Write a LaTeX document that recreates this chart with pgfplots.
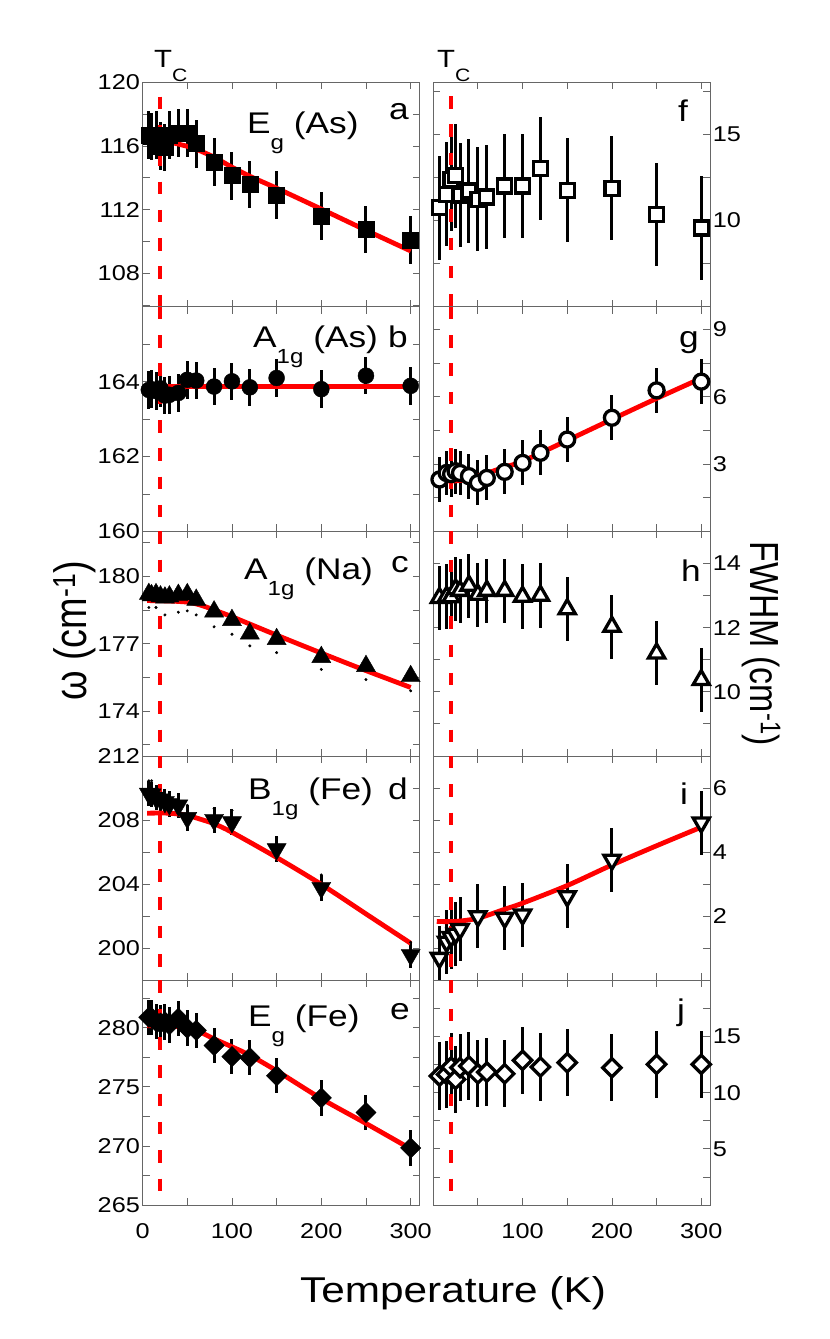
\documentclass[border=0pt]{standalone}
\usepackage{pgfplots}
\pgfplotsset{compat=1.18}
\usepackage{pgfplotstable}
\usepackage{fontspec}
\setmainfont{Liberation Sans}[FakeStretch=1.18]
\newfontfamily\plainfont{Liberation Sans}

\pgfplotstableread{
T w e
7 116.67 1.5
10 116.60 1.5
15 116.70 1.5
20 116.00 1.5
25 115.90 1.5
30 116.70 1.5
40 116.80 1.5
50 116.80 1.5
60 116.15 1.5
80 114.98 1.5
100 114.14 1.5
120 113.58 1.5
150 112.94 1.5
200 111.62 1.5
250 110.75 1.5
300 110.08 1.5
}\dataA
\pgfplotstableread{
T w e
7 163.78 0.5
10 163.80 0.5
15 163.75 0.5
20 163.82 0.5
25 163.63 0.5
30 163.65 0.5
40 163.70 0.5
50 164.05 0.5
60 164.03 0.5
80 163.87 0.5
100 164.01 0.5
120 163.85 0.5
150 164.10 0.5
200 163.80 0.5
250 164.16 0.5
300 163.89 0.5
}\dataB
\pgfplotstableread{
T w
7 179.21
10 179.15
15 179.20
20 179.10
25 179.05
30 179.10
40 179.17
50 179.20
60 178.95
80 178.43
100 178.05
120 177.45
150 177.20
200 176.40
250 176.00
300 175.55
}\dataC
\pgfplotstableread{
T w
7 178.61
15 178.61
25 178.28
40 178.40
50 178.46
60 178.28
80 177.75
100 177.42
120 176.90
150 176.60
200 175.85
250 175.40
300 174.90
}\dotsC
\pgfplotstableread{
T w e
7 209.65 0.8
10 209.60 0.8
15 209.40 0.8
20 209.30 0.8
25 209.13 0.8
30 209.00 0.8
40 208.92 0.8
50 208.14 0.8
80 208.02 0.8
100 207.87 0.8
150 206.19 0.8
200 203.78 0.8
300 199.59 0.8
}\dataD
\pgfplotstableread{
T w
7 210.45
10 210.45
50 208.92
80 208.71
100 208.60
150 206.89
200 204.58
300 200.38
}\dotsD
\pgfplotstableread{
T w e
7 280.89 1.5
10 280.85 1.5
15 280.53 1.5
20 280.39 1.5
25 280.50 1.5
30 280.25 1.5
40 280.80 1.5
50 279.97 1.5
60 279.78 1.5
80 278.50 1.5
100 277.56 1.5
120 277.47 1.5
150 275.94 1.5
200 274.06 1.5
250 272.83 1.5
300 269.83 1.5
}\dataE
\pgfplotstableread{
T w e
7 10.74 3
15 11.52 3
20 12.39 3
25 12.59 3
30 11.48 3
40 11.71 3
50 11.23 3
60 11.36 3
80 12.00 3
100 12.00 3
120 13.02 3
150 11.75 3
200 11.87 3
250 10.35 3
300 9.57 3
}\dataF
\pgfplotstableread{
T w e
7 2.31 1
15 2.60 1
20 2.55 1
25 2.68 1
30 2.60 1
40 2.46 1
50 2.16 1
60 2.38 1
80 2.65 1
100 3.05 1
120 3.50 1
150 4.09 1
200 5.06 1
250 6.28 1
300 6.67 1
}\dataG
\pgfplotstableread{
T w e
7 12.93 1
15 12.97 1
20 12.95 1
25 13.20 1
30 13.15 1
40 13.31 1
50 13.03 1
60 13.15 1
80 13.15 1
100 12.97 1
120 13.00 1
150 12.58 1
200 12.03 1
250 11.20 1
300 10.37 1
}\dataH
\pgfplotstableread{
T w e
7 0.70 1
15 1.20 1
20 1.35 1
25 1.45 1
30 1.60 1
50 2.00 1
80 1.95 1
100 2.05 1
150 2.62 1
200 3.76 1
300 4.92 1
}\dataI
\pgfplotstableread{
T w e
7 11.49 3
15 11.63 3
20 12.29 3
25 11.19 3
30 12.24 3
40 12.38 3
50 11.69 3
60 11.84 3
80 11.69 3
100 12.89 3
120 12.29 3
150 12.68 3
200 12.23 3
250 12.53 3
300 12.53 3
}\dataJ

\pgfplotsset{
  panel/.style={scale only axis, width=277bp, height=224.5bp, anchor=south west,
    xmin=0, xmax=310, xtick={0,100,200,300}, minor xtick={50,150,250},
    tick align=inside, xtick pos=both, ytick pos=both,
    axis line style={black!60, line width=0.8bp},
    tick style={black!60, line width=0.8bp},
    major tick length=7bp, minor tick length=7bp,
    ticklabel style={font=\fontsize{21.5}{21.5}\selectfont},
    /pgf/number format/assume math mode=true,
    xticklabel style={anchor=north, inner sep=0pt, yshift=-18bp},
  },
  leftp/.style={panel, yticklabel style={anchor=east, inner sep=0pt, xshift=-2.5bp}},
  rightp/.style={panel, yticklabel pos=right, yticklabel style={anchor=west, inner sep=0pt, xshift=2.5bp}},
  fit/.style={red, line width=4.8bp, no markers, smooth},
  tc/.style={red, line width=4bp, no markers, dash pattern=on 12.5bp off 15.8bp},
  ebars/.style={error bars/.cd, y dir=both, y explicit, error mark=none, error bar style={line width=3bp, black}},
}

\begin{document}
\begin{tikzpicture}
\path[use as bounding box] (0,0) rectangle (830bp,1339bp);

% ---------- left column ----------
\begin{axis}[leftp, at={(142.6bp,1032.16bp)}, ymin=105.9, ymax=120,
  ytick={108,112,116,120}, minor ytick={106,110,114,118}, xticklabels={}]
\addplot[only marks, black, mark=square*, mark size=8bp, ebars] table[x=T, y=w, y error=e] {\dataA};
\addplot[fit] coordinates {(5,116.42)(20,116.35)(30,116.25)(40,116.12)(50,115.98)(60,115.8)(80,115.3)(100,114.67)(120,114.1)(150,113.35)(200,112.04)(250,110.71)(300,109.41)};
\addplot[tc] coordinates {(20,119.1)(20,105.9)};
\end{axis}

\begin{axis}[leftp, at={(142.6bp,807.62bp)}, ymin=160, ymax=166,
  ytick={160,162,164}, minor ytick={161,163,165}, xticklabels={}]
\addplot[only marks, black, mark=*, mark size=8bp, ebars] table[x=T, y=w, y error=e] {\dataB};
\addplot[fit] coordinates {(5,163.875)(300,163.875)};
\addplot[tc] coordinates {(20,166)(20,160)};
\end{axis}

\begin{axis}[leftp, at={(142.6bp,583.08bp)}, ymin=172, ymax=182,
  ytick={174,177,180}, minor ytick={172.5,175.5,178.5,181.5}, xticklabels={}]
\addplot[only marks, black, mark=triangle*, mark size=11bp] table[x=T, y=w] {\dataC};
\addplot[only marks, black, mark=*, mark size=1.3bp] table[x=T, y=w] {\dotsC};
\addplot[fit] coordinates {(5,178.92)(30,178.9)(50,178.85)(60,178.77)(70,178.65)(80,178.5)(100,178.2)(150,177.38)(200,176.58)(250,175.8)(300,175.05)};
\addplot[tc] coordinates {(20,182)(20,172)};
\end{axis}

\begin{axis}[leftp, at={(142.6bp,358.54bp)}, ymin=198, ymax=212,
  ytick={200,204,208,212}, minor ytick={198,202,206,210}, xticklabels={}]
\addplot[only marks, black, mark=triangle*, mark size=11bp, mark options={rotate=180}, ebars] table[x=T, y=w, y error=e] {\dataD};
\addplot[only marks, black, mark=*, mark size=1.3bp] table[x=T, y=w] {\dotsD};
\addplot[fit] coordinates {(5,208.43)(30,208.43)(50,208.29)(65,208.05)(80,207.77)(100,207.24)(150,205.67)(200,203.99)(250,202.15)(300,200.32)};
\addplot[tc] coordinates {(20,212)(20,198)};
\end{axis}

\begin{axis}[leftp, at={(142.6bp,134bp)}, ymin=265, ymax=284,
  ytick={265,270,275,280}, minor ytick={267.5,272.5,277.5,282.5}]
\addplot[only marks, black, mark=square*, mark size=7.2bp, mark options={rotate=45}, ebars] table[x=T, y=w, y error=e] {\dataE};
\addplot[fit] coordinates {(5,280.17)(30,280.17)(50,279.97)(60,279.8)(80,279.06)(100,278.39)(120,277.67)(150,276.36)(200,274.0)(250,271.9)(300,269.75)};
\addplot[tc] coordinates {(20,284)(20,265)};
\end{axis}

% ---------- right column ----------
\begin{axis}[rightp, at={(433.2bp,1032.16bp)}, ymin=5, ymax=18,
  ytick={10,15}, minor ytick={7.5,12.5,17.5}, xticklabels={}]
\addplot[only marks, black, mark=square*, mark size=7bp, mark options={fill=white, draw=black, line width=3.3bp}, ebars] table[x=T, y=w, y error=e] {\dataF};
\addplot[tc] coordinates {(20,17.2)(20,5)};
\end{axis}

\begin{axis}[rightp, at={(433.2bp,807.62bp)}, ymin=0, ymax=10,
  ytick={3,6,9}, minor ytick={1.5,4.5,7.5}, xticklabels={}]
\addplot[only marks, black, mark=*, mark size=7.5bp, mark options={fill=white, draw=black, line width=3.3bp}, ebars] table[x=T, y=w, y error=e] {\dataG};
\addplot[fit] coordinates {(5,2.31)(20,2.24)(35,2.3)(50,2.46)(80,2.86)(100,3.125)(150,4.05)(200,4.99)(250,5.92)(300,6.82)};
\addplot[tc] coordinates {(20,10)(20,0)};
\end{axis}

\begin{axis}[rightp, at={(433.2bp,583.08bp)}, ymin=8, ymax=15,
  ytick={10,12,14}, minor ytick={9,11,13}, xticklabels={}]
\addplot[only marks, black, mark=triangle*, mark size=9.3bp, mark options={fill=white, draw=black, line width=3.3bp}, ebars] table[x=T, y=w, y error=e] {\dataH};
\addplot[tc] coordinates {(20,15)(20,8)};
\end{axis}

\begin{axis}[rightp, at={(433.2bp,358.54bp)}, ymin=0, ymax=7,
  ytick={2,4,6}, minor ytick={1,3,5}, xticklabels={}]
\addplot[only marks, black, mark=triangle*, mark size=9.3bp, mark options={rotate=180, fill=white, draw=black, line width=3.3bp}, ebars] table[x=T, y=w, y error=e] {\dataI};
\addplot[fit] coordinates {(4,1.84)(25,1.84)(50,1.94)(80,2.22)(100,2.41)(150,2.96)(200,3.6)(250,4.2)(300,4.78)};
\addplot[tc] coordinates {(20,7)(20,0)};
\end{axis}

\begin{axis}[rightp, at={(433.2bp,134bp)}, ymin=0, ymax=20,
  ytick={5,10,15}, minor ytick={2.5,7.5,12.5,17.5}, xtick={100,200,300}, minor xtick={50,150,250}]
\addplot[only marks, black, mark=square*, mark size=6.5bp, mark options={rotate=45, fill=white, draw=black, line width=3.3bp}, ebars] table[x=T, y=w, y error=e] {\dataJ};
\addplot[tc] coordinates {(20,20)(20,0)};
\end{axis}

% ---------- texts ----------
\newcommand{\modefont}{\fontsize{30}{30}\selectfont}
\newcommand{\subf}[1]{\raisebox{-16bp}{\fontsize{20.5}{20.5}\selectfont #1}}
\node[anchor=base west, inner sep=0] at (247bp,1205bp) {\modefont E\subf{g}\ (As)};
\node[anchor=base west, inner sep=0] at (253bp,991bp) {\modefont A\subf{1g}\ (As)};
\node[anchor=base west, inner sep=0] at (244bp,759bp) {\modefont A\subf{1g}\ (Na)};
\node[anchor=base west, inner sep=0] at (248bp,539bp) {\modefont B\subf{1g}\ (Fe)};
\node[anchor=base west, inner sep=0] at (248bp,312bp) {\modefont E\subf{g}\ (Fe)};

\node[anchor=base west, inner sep=0] at (389bp,1219bp) {\modefont a};
\node[anchor=base west, inner sep=0] at (388bp,991bp) {\modefont b};
\node[anchor=base west, inner sep=0] at (391bp,766bp) {\modefont c};
\node[anchor=base west, inner sep=0] at (388bp,539bp) {\modefont d};
\node[anchor=base west, inner sep=0] at (390bp,319bp) {\modefont e};

\node[anchor=base west, inner sep=0] at (678bp,1217bp) {\modefont f};
\node[anchor=base west, inner sep=0] at (679bp,991bp) {\modefont g};
\node[anchor=base west, inner sep=0] at (681bp,757bp) {\modefont h};
\node[anchor=base west, inner sep=0] at (680bp,534bp) {\modefont i};
\node[anchor=base west, inner sep=0] at (677bp,318bp) {\modefont j};

\node[anchor=base west, inner sep=0] at (154bp,1271bp) {\fontsize{25}{25}\selectfont T\raisebox{-14bp}{\fontsize{18}{18}\selectfont C}};
\node[anchor=base west, inner sep=0] at (437bp,1271bp) {\fontsize{25}{25}\selectfont T\raisebox{-14bp}{\fontsize{18}{18}\selectfont C}};

\node[rotate=90, anchor=base, inner sep=0] at (86bp,708bp) {\scalebox{1}[1.2]{\plainfont\fontsize{38}{38}\selectfont ω (cm\textsuperscript{-1})}};
\node[rotate=-90, anchor=base, inner sep=0] at (750bp,695bp) {\scalebox{1}[1.2]{\plainfont\fontsize{34}{34}\selectfont FWHM (cm\textsuperscript{-1})}};
\node[anchor=base, inner sep=0] at (453bp,37bp) {\fontsize{36}{36}\selectfont Temperature (K)};
\end{tikzpicture}
\end{document}
